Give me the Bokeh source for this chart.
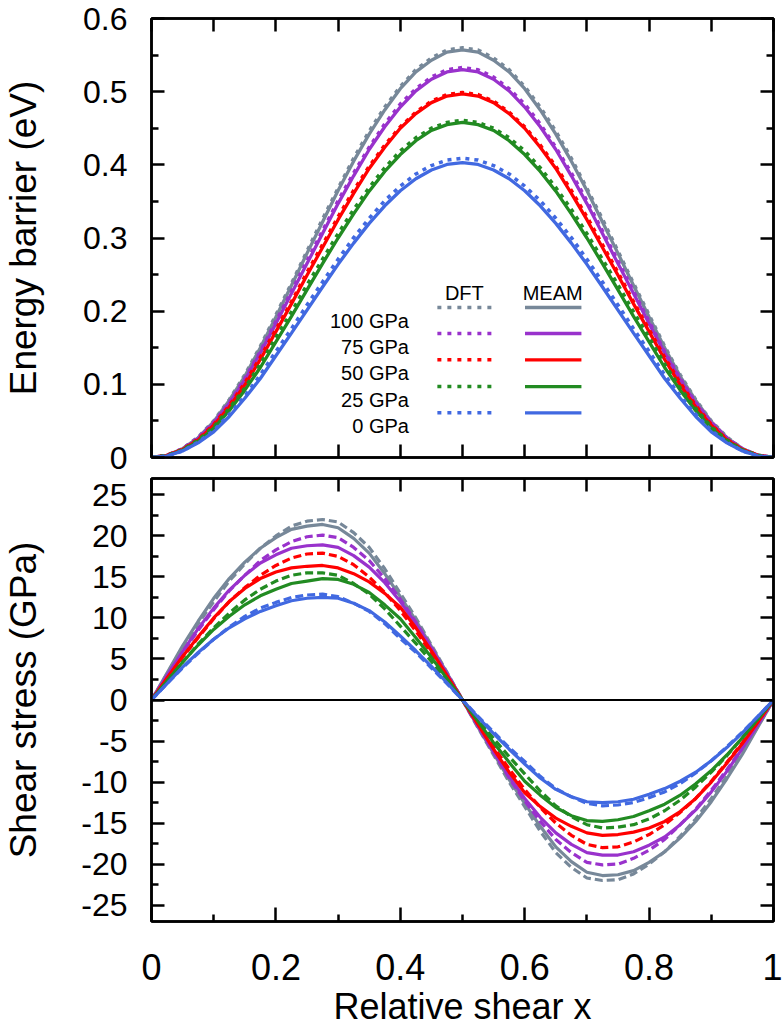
from bokeh.plotting import figure
from bokeh.models import LinearAxis, FixedTicker, Span, Range1d, CustomJSTickFormatter
from bokeh.layouts import column
from bokeh.embed import file_html
from bokeh.resources import INLINE
from bokeh.core.properties import value

FONT = "Liberation Sans"

# ---------------- data ----------------
shear_x = [0.000, 0.025, 0.050, 0.075, 0.100, 0.125, 0.150, 0.175, 0.200, 0.225,
           0.250, 0.275, 0.300, 0.325, 0.350, 0.375, 0.400, 0.425, 0.450, 0.475,
           0.500, 0.525, 0.550, 0.575, 0.600, 0.625, 0.650, 0.675, 0.700, 0.725,
           0.750, 0.775, 0.800, 0.825, 0.850, 0.875, 0.900, 0.925, 0.950, 0.975, 1.000]

pressure_labels = ["100 GPa", "75 GPa", "50 GPa", "25 GPa", "0 GPa"]
series_colors = ["#778899", "#9932cc", "#ff0000", "#228b22", "#4169e1"]

# Energy barrier (eV)
energy_meam_100 = [0, 0.003, 0.012, 0.027, 0.049, 0.078, 0.111, 0.150, 0.192, 0.235,
                   0.279, 0.322, 0.365, 0.405, 0.442, 0.475, 0.504, 0.527, 0.543, 0.554,
                   0.557, 0.554, 0.543, 0.527, 0.504, 0.475, 0.442, 0.405, 0.365, 0.322,
                   0.279, 0.235, 0.192, 0.150, 0.111, 0.078, 0.049, 0.027, 0.012, 0.003, 0]
energy_dft_100 = [0, 0.003, 0.012, 0.028, 0.050, 0.079, 0.113, 0.152, 0.195, 0.238,
                  0.282, 0.326, 0.368, 0.409, 0.446, 0.479, 0.507, 0.530, 0.546, 0.557,
                  0.560, 0.557, 0.546, 0.530, 0.507, 0.479, 0.446, 0.409, 0.368, 0.326,
                  0.282, 0.238, 0.195, 0.152, 0.113, 0.079, 0.050, 0.028, 0.012, 0.003, 0]
energy_meam_75 = [0, 0.003, 0.011, 0.026, 0.047, 0.074, 0.106, 0.143, 0.183, 0.224,
                  0.265, 0.306, 0.347, 0.385, 0.421, 0.452, 0.479, 0.501, 0.517, 0.527,
                  0.530, 0.527, 0.517, 0.501, 0.479, 0.452, 0.421, 0.385, 0.347, 0.306,
                  0.265, 0.224, 0.183, 0.143, 0.106, 0.074, 0.047, 0.026, 0.011, 0.003, 0]
energy_dft_75 = [0, 0.003, 0.012, 0.027, 0.048, 0.075, 0.108, 0.145, 0.186, 0.227,
                 0.269, 0.310, 0.351, 0.389, 0.424, 0.456, 0.483, 0.504, 0.520, 0.530,
                 0.533, 0.530, 0.520, 0.504, 0.483, 0.456, 0.424, 0.389, 0.351, 0.310,
                 0.269, 0.227, 0.186, 0.145, 0.108, 0.075, 0.048, 0.027, 0.012, 0.003, 0]
energy_meam_50 = [0, 0.003, 0.011, 0.024, 0.044, 0.069, 0.099, 0.134, 0.172, 0.210,
                  0.249, 0.287, 0.325, 0.361, 0.395, 0.424, 0.450, 0.470, 0.485, 0.494,
                  0.497, 0.494, 0.485, 0.470, 0.450, 0.424, 0.395, 0.361, 0.325, 0.287,
                  0.249, 0.210, 0.172, 0.134, 0.099, 0.069, 0.044, 0.024, 0.011, 0.003, 0]
energy_dft_50 = [0, 0.003, 0.011, 0.025, 0.045, 0.071, 0.102, 0.137, 0.175, 0.213,
                 0.253, 0.291, 0.329, 0.365, 0.398, 0.427, 0.452, 0.472, 0.487, 0.496,
                 0.499, 0.496, 0.487, 0.472, 0.452, 0.427, 0.398, 0.365, 0.329, 0.291,
                 0.253, 0.213, 0.175, 0.137, 0.102, 0.071, 0.045, 0.025, 0.011, 0.003, 0]
energy_meam_25 = [0, 0.002, 0.010, 0.022, 0.040, 0.064, 0.092, 0.123, 0.158, 0.193,
                  0.229, 0.265, 0.300, 0.333, 0.364, 0.391, 0.414, 0.433, 0.447, 0.455,
                  0.458, 0.455, 0.447, 0.433, 0.414, 0.391, 0.364, 0.333, 0.300, 0.265,
                  0.229, 0.193, 0.158, 0.123, 0.092, 0.064, 0.040, 0.022, 0.010, 0.002, 0]
energy_dft_25 = [0, 0.003, 0.010, 0.024, 0.042, 0.067, 0.095, 0.128, 0.164, 0.199,
                 0.236, 0.271, 0.306, 0.339, 0.369, 0.396, 0.419, 0.437, 0.450, 0.458,
                 0.461, 0.458, 0.450, 0.437, 0.419, 0.396, 0.369, 0.339, 0.306, 0.271,
                 0.236, 0.199, 0.164, 0.128, 0.095, 0.067, 0.042, 0.024, 0.010, 0.003, 0]
energy_meam_0 = [0, 0.002, 0.009, 0.020, 0.035, 0.056, 0.081, 0.108, 0.139, 0.170,
                 0.2015, 0.233, 0.264, 0.293, 0.320, 0.344, 0.3645, 0.381, 0.393, 0.4005,
                 0.403, 0.4005, 0.393, 0.381, 0.3645, 0.344, 0.320, 0.293, 0.264, 0.233,
                 0.2015, 0.170, 0.139, 0.108, 0.081, 0.056, 0.035, 0.020, 0.009, 0.002, 0]
energy_dft_0 = [0, 0.002, 0.009, 0.021, 0.037, 0.059, 0.084, 0.113, 0.145, 0.176,
                0.2085, 0.240, 0.271, 0.3005, 0.327, 0.351, 0.371, 0.3875, 0.399, 0.4065,
                0.409, 0.4065, 0.399, 0.3875, 0.371, 0.351, 0.327, 0.3005, 0.271, 0.240,
                0.2085, 0.176, 0.145, 0.113, 0.084, 0.059, 0.037, 0.021, 0.009, 0.002, 0]

# Shear stress (GPa)
stress_meam_100 = [0, 3.3, 6.6, 9.6, 12.4, 14.8, 16.8, 18.5, 19.8, 20.8,
                   21.2, 21.4, 21.0, 19.7, 17.9, 15.4, 12.6, 9.7, 6.5, 3.3,
                   0, -3.3, -6.5, -9.7, -12.6, -15.4, -17.9, -19.7, -21.0, -21.4,
                   -21.3, -20.8, -19.8, -18.5, -16.8, -14.8, -12.4, -9.6, -6.6, -3.3, 0]
stress_dft_100 = [0, 3.2, 6.4, 9.3, 12.0, 14.5, 16.6, 18.5, 20.0, 21.2,
                  21.8, 22.0, 21.7, 20.4, 18.6, 16.0, 13.0, 10.0, 6.7, 3.4,
                  0, -3.4, -6.7, -10.0, -13.0, -16.0, -18.6, -20.4, -21.7, -22.0,
                  -21.9, -21.2, -20.0, -18.5, -16.6, -14.5, -12.0, -9.3, -6.4, -3.2, 0]
stress_meam_75 = [0, 3.0, 5.9, 8.7, 11.2, 13.4, 15.2, 16.7, 17.7, 18.5,
                  18.8, 18.9, 18.6, 17.6, 16.2, 14.3, 12.0, 9.3, 6.3, 3.2,
                  0, -3.2, -6.3, -9.3, -12.0, -14.3, -16.2, -17.6, -18.6, -18.9,
                  -18.9, -18.5, -17.7, -16.7, -15.2, -13.4, -11.2, -8.7, -5.9, -3.0, 0]
stress_dft_75 = [0, 2.9, 5.8, 8.5, 11.0, 13.3, 15.2, 17.0, 18.3, 19.3,
                 19.9, 20.1, 19.8, 18.6, 17.0, 14.8, 12.3, 9.5, 6.4, 3.2,
                 0, -3.2, -6.4, -9.5, -12.3, -14.8, -17.0, -18.6, -19.8, -20.1,
                 -20.0, -19.3, -18.3, -17.0, -15.2, -13.3, -11.0, -8.5, -5.8, -2.9, 0]
stress_meam_50 = [0, 2.7, 5.3, 7.7, 10.0, 12.0, 13.6, 14.8, 15.6, 16.1,
                  16.3, 16.4, 16.1, 15.4, 14.4, 13.0, 11.3, 8.8, 6.0, 3.0,
                  0, -3.0, -6.0, -8.8, -11.3, -13.0, -14.4, -15.4, -16.2, -16.5,
                  -16.4, -16.1, -15.6, -14.8, -13.6, -12.0, -10.0, -7.7, -5.3, -2.7, 0]
stress_dft_50 = [0, 2.6, 5.2, 7.6, 9.9, 12.0, 13.7, 15.2, 16.4, 17.3,
                 17.8, 17.9, 17.5, 16.5, 15.0, 13.1, 10.9, 8.4, 5.7, 2.9,
                 0, -2.9, -5.7, -8.4, -10.9, -13.1, -15.0, -16.5, -17.6, -18.0,
                 -17.9, -17.3, -16.4, -15.2, -13.7, -12.0, -9.9, -7.6, -5.2, -2.6, 0]
stress_meam_25 = [0, 2.3, 4.6, 6.7, 8.6, 10.2, 11.6, 12.7, 13.5, 14.2,
                  14.5, 14.8, 14.7, 14.1, 13.1, 11.6, 9.9, 7.6, 5.2, 2.6,
                  0, -2.6, -5.2, -7.6, -9.9, -11.6, -13.1, -14.1, -14.7, -14.8,
                  -14.6, -14.2, -13.5, -12.7, -11.6, -10.2, -8.6, -6.7, -4.6, -2.3, 0]
stress_dft_25 = [0, 2.3, 4.6, 6.8, 8.8, 10.6, 12.2, 13.5, 14.5, 15.2,
                 15.5, 15.5, 15.2, 14.2, 12.9, 11.1, 9.0, 6.9, 4.7, 2.4,
                 0, -2.4, -4.7, -6.9, -9.0, -11.1, -12.9, -14.2, -15.2, -15.6,
                 -15.5, -15.2, -14.5, -13.5, -12.2, -10.6, -8.8, -6.8, -4.6, -2.3, 0]
stress_meam_0 = [0, 2.0, 4.0, 5.8, 7.4, 8.8, 9.9, 10.8, 11.5, 12.1,
                 12.4, 12.5, 12.4, 11.8, 10.9, 9.5, 7.8, 6.0, 4.1, 2.1,
                 0, -2.1, -4.1, -6.0, -7.8, -9.5, -10.9, -11.8, -12.4, -12.5,
                 -12.4, -12.1, -11.5, -10.8, -9.9, -8.8, -7.4, -5.8, -4.0, -2.0, 0]
stress_dft_0 = [0, 2.0, 3.9, 5.7, 7.4, 8.9, 10.2, 11.2, 11.9, 12.5,
                12.8, 12.9, 12.6, 11.8, 10.8, 9.3, 7.5, 5.8, 3.9, 2.0,
                0, -2.0, -3.9, -5.8, -7.5, -9.3, -10.8, -11.8, -12.6, -12.9,
                -12.8, -12.5, -11.9, -11.2, -10.2, -8.9, -7.4, -5.7, -3.9, -2.0, 0]

energy_meam = [energy_meam_100, energy_meam_75, energy_meam_50, energy_meam_25, energy_meam_0]
energy_dft = [energy_dft_100, energy_dft_75, energy_dft_50, energy_dft_25, energy_dft_0]
stress_meam = [stress_meam_100, stress_meam_75, stress_meam_50, stress_meam_25, stress_meam_0]
stress_dft = [stress_dft_100, stress_dft_75, stress_dft_50, stress_dft_25, stress_dft_0]

# ticks
energy_ticks = [0, 0.1, 0.2, 0.3, 0.4, 0.5, 0.6]
energy_tick_labels = ["0", "0.1", "0.2", "0.3", "0.4", "0.5", "0.6"]
energy_minor_ticks = [0.05, 0.15, 0.25, 0.35, 0.45, 0.55]
stress_ticks = [-25, -20, -15, -10, -5, 0, 5, 10, 15, 20, 25]
stress_tick_labels = ["-25", "-20", "-15", "-10", "-5", "0", "5", "10", "15", "20", "25"]
stress_minor_ticks = [-22.5, -17.5, -12.5, -7.5, -2.5, 2.5, 7.5, 12.5, 17.5, 22.5]
x_ticks = [0, 0.2, 0.4, 0.6, 0.8, 1]
x_tick_labels = ["0", "0.2", "0.4", "0.6", "0.8", "1"]
x_minor_ticks = [0.1, 0.3, 0.5, 0.7, 0.9]
x_ticks_fine = [0, 0.1, 0.2, 0.3, 0.4, 0.5, 0.6, 0.7, 0.8, 0.9, 1]

# ---------------- helpers ----------------
def frame_axis(ax, ticks, minor, major_len=13, minor_len=7):
    ax.ticker = FixedTicker(ticks=ticks, minor_ticks=minor)
    ax.axis_line_color = "black"
    ax.axis_line_width = 2.5
    ax.major_tick_in = major_len
    ax.major_tick_out = 0
    ax.minor_tick_in = minor_len
    ax.minor_tick_out = 0
    ax.major_tick_line_color = "black"
    ax.minor_tick_line_color = "black"
    ax.major_tick_line_width = 2.5
    ax.minor_tick_line_width = 2.5


def blank_labels(ax):
    ax.formatter = CustomJSTickFormatter(code="return ''")
    ax.major_label_text_font_size = "1px"
    ax.major_label_standoff = 0


def label_axis(ax, ticks, labels, size, standoff):
    ax.major_label_overrides = dict(zip(ticks, labels))
    ax.major_label_text_font = FONT
    ax.major_label_text_font_size = size
    ax.major_label_text_color = "black"
    ax.major_label_standoff = standoff


def title_axis(ax, text, size, standoff):
    ax.axis_label = text
    ax.axis_label_text_font = FONT
    ax.axis_label_text_font_size = size
    ax.axis_label_text_font_style = "normal"
    ax.axis_label_text_color = "black"
    ax.axis_label_standoff = standoff


def base_fig(height, y_lo, y_hi, top_border, bottom_border):
    p = figure(width=782, height=height, x_range=Range1d(0, 1), y_range=Range1d(y_lo, y_hi),
               output_backend="svg", toolbar_location=None,
               min_border_left=151, min_border_right=9,
               min_border_top=top_border, min_border_bottom=bottom_border)
    p.xgrid.visible = False
    p.ygrid.visible = False
    p.outline_line_color = "black"
    p.outline_line_width = 2.5
    p.background_fill_color = "white"
    p.border_fill_color = "white"
    p.add_layout(LinearAxis(), "right")
    p.add_layout(LinearAxis(), "above")
    return p


# ---------------- top panel: energy ----------------
p1 = base_fig(476, 0, 0.6, 18, 19)
frame_axis(p1.below[0], x_ticks_fine, [])
blank_labels(p1.below[0])
frame_axis(p1.above[0], x_ticks_fine, [])
blank_labels(p1.above[0])
frame_axis(p1.left[0], energy_ticks, energy_minor_ticks)
label_axis(p1.left[0], energy_ticks, energy_tick_labels, "32px", 24)
frame_axis(p1.right[0], energy_ticks, energy_minor_ticks)
blank_labels(p1.right[0])
title_axis(p1.left[0], "Energy barrier (eV)", "37px", 36)

for c, em, ed in zip(series_colors, energy_meam, energy_dft):
    p1.line(shear_x, em, line_color=c, line_width=3.3)
    p1.line(shear_x, ed, line_color=c, line_width=3.5, line_dash="4 5")

# legend (layout constants, data units of the top panel)
leg_rows = [0.205, 0.1695, 0.1335, 0.097, 0.061]
leg_text_offset = 0.0178
for txt, xc in zip(["DFT", "MEAM"], [0.503, 0.645]):
    p1.text(x=[xc], y=[0.2251], text=[txt], text_font=value(FONT), text_font_size=value("20px"),
            text_align="center", text_baseline="alphabetic", text_color="black")
for yy, lab, c in zip(leg_rows, pressure_labels, series_colors):
    p1.text(x=[0.4139], y=[yy - leg_text_offset], text=[lab], text_font=value(FONT),
            text_font_size=value("20px"), text_align="right", text_baseline="alphabetic",
            text_color="black")
    p1.line([0.4596, 0.5506], [yy, yy], line_color=c, line_width=3.5, line_dash="4 6")
    p1.line([0.6005, 0.6912], [yy, yy], line_color=c, line_width=3.3)

# ---------------- bottom panel: stress ----------------
p2 = base_fig(553, -27, 27, 2, 107)
frame_axis(p2.below[0], x_ticks, x_minor_ticks, 14, 7)
label_axis(p2.below[0], x_ticks, x_tick_labels, "36px", 32)
title_axis(p2.below[0], "Relative shear x", "36px", 3)
frame_axis(p2.above[0], x_ticks_fine, [])
blank_labels(p2.above[0])
frame_axis(p2.left[0], stress_ticks, stress_minor_ticks)
label_axis(p2.left[0], stress_ticks, stress_tick_labels, "32px", 24)
frame_axis(p2.right[0], stress_ticks, stress_minor_ticks)
blank_labels(p2.right[0])
title_axis(p2.left[0], "Shear stress (GPa)", "37px", 34)

p2.add_layout(Span(location=0, dimension="width", line_color="black", line_width=2))

for c, sm, sd in zip(series_colors, stress_meam, stress_dft):
    p2.line(shear_x, sm, line_color=c, line_width=3.2)
    p2.line(shear_x, sd, line_color=c, line_width=3.2, line_dash="8 4")

layout = column(p1, p2, spacing=0)
open("out.html", "w").write(file_html(layout, INLINE))
